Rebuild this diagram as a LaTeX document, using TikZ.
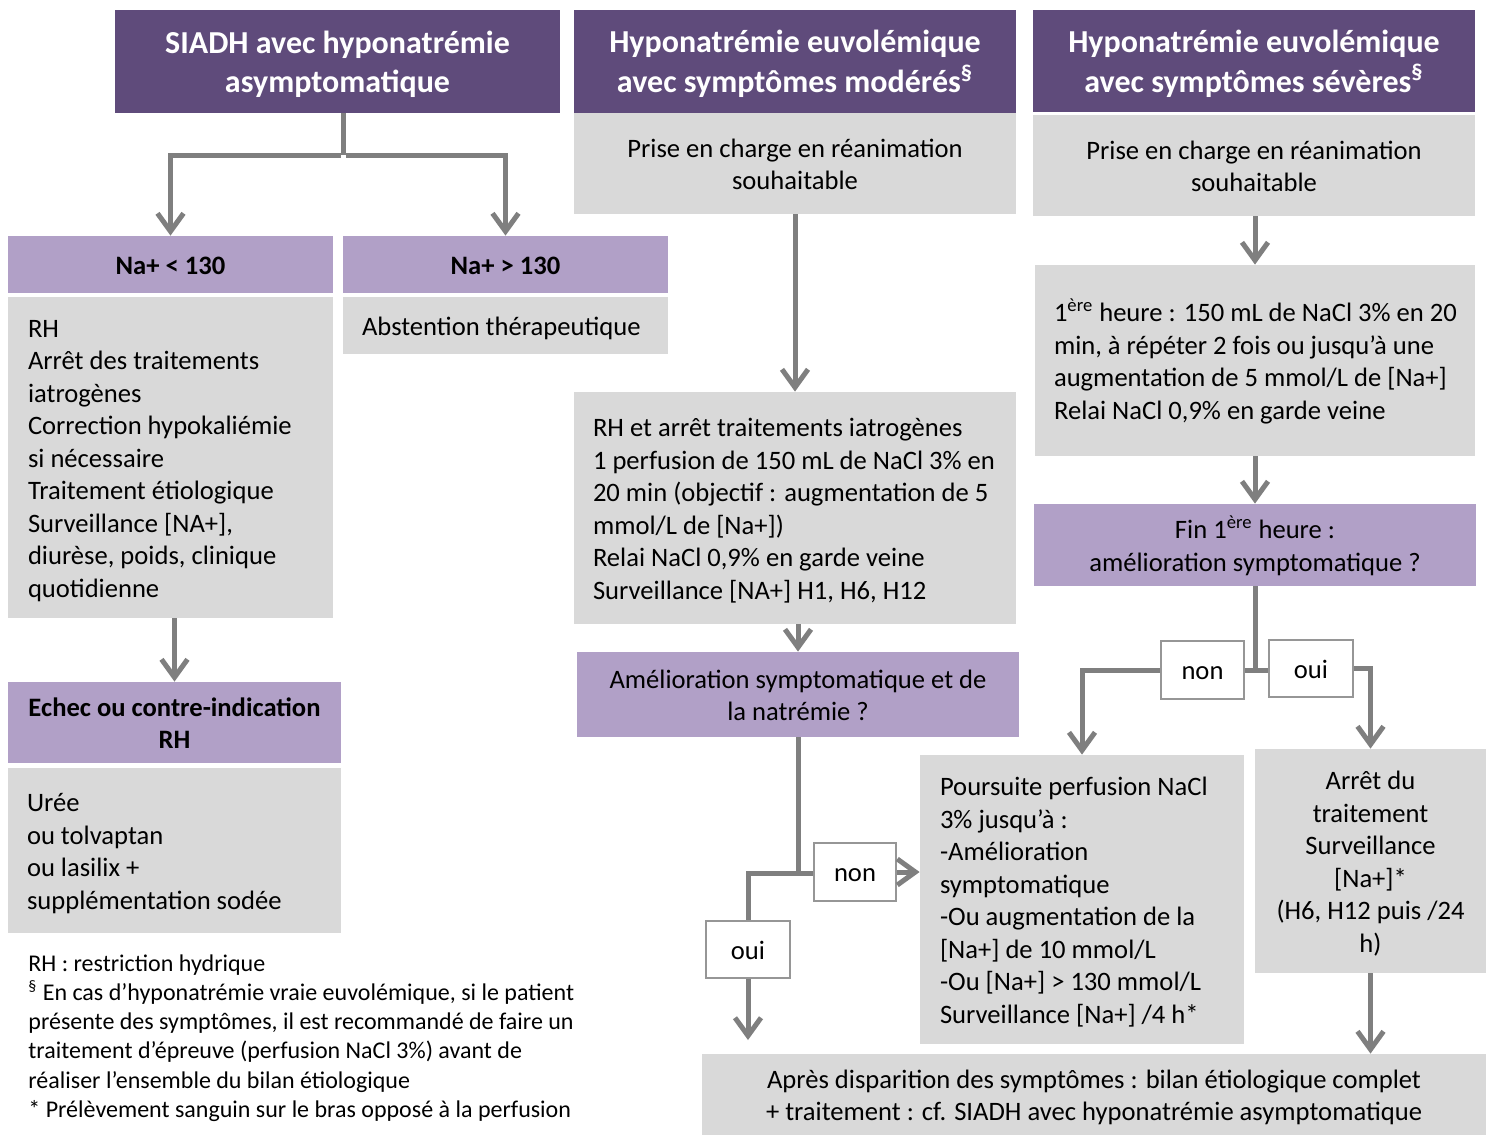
\documentclass[tikz,border=0pt]{standalone}
\usepackage{fontspec}
\setmainfont{Carlito}
\usetikzlibrary{arrows.meta}
\definecolor{hdrpurple}{RGB}{95,75,123}
\definecolor{lightpurple}{RGB}{177,160,199}
\definecolor{boxgray}{RGB}{217,217,217}
\definecolor{arrgray}{RGB}{127,127,127}
\definecolor{lblgray}{RGB}{150,150,150}
\newcommand{\bodyfont}{\fontsize{13.3pt}{16.25pt}\selectfont}
\newcommand{\hdrfont}{\fontsize{16pt}{19.5pt}\selectfont\bfseries}
\newcommand{\notefont}{\fontsize{12pt}{14.6pt}\selectfont}
\newcommand{\lowered}[1]{\raisebox{-1.7pt}[\height][\depth]{#1}}
\newcommand{\leftlines}[2]{\lowered{\makebox[#1][l]{\begin{tabular}{@{}l@{}}#2\end{tabular}}}}
\newcommand{\clines}[1]{\lowered{\begin{tabular}{@{}c@{}}#1\end{tabular}}}
\tikzset{
  hdr/.style={fill=hdrpurple, text=white, font=\hdrfont, inner sep=0pt},
  gbox/.style={fill=boxgray, font=\bodyfont, inner sep=0pt},
  pbox/.style={fill=lightpurple, font=\bodyfont, inner sep=0pt},
  lbl/.style={fill=white, draw=lblgray, line width=0.9pt, font=\bodyfont, inner sep=0pt},
  link/.style={draw=arrgray, line width=2.5pt},
  arr/.style={link, -{Straight Barb[length=9pt,width=13pt]}},
}
\begin{document}
\begin{tikzpicture}[x=0.5pt,y=-0.5pt]
\useasboundingbox[fill=white] (0,0) rectangle (1488,1135);

% headers
\node[hdr, minimum width=222.5pt, minimum height=51.5pt] (h1) at (337.5,61.5) {\clines{SIADH avec hyponatrémie\\asymptomatique}};
\node[hdr, minimum width=221pt, minimum height=51.5pt] (h2) at (795,61.5) {\clines{Hyponatrémie euvolémique\\avec symptômes modérés\textsuperscript{§}}};
\node[hdr, minimum width=221pt, minimum height=51pt] (h3) at (1254,61) {\clines{Hyponatrémie euvolémique\\avec symptômes sévères\textsuperscript{§}}};

% column 1
\node[pbox, font=\bodyfont\bfseries, minimum width=162.5pt, minimum height=28.5pt] (na1) at (170.5,264.5) {\clines{Na+ < 130}};
\node[pbox, font=\bodyfont\bfseries, minimum width=162.5pt, minimum height=28.5pt] (na2) at (505.5,264.5) {\clines{Na+ > 130}};
\node[gbox, minimum width=162.5pt, minimum height=160.5pt, inner xsep=10pt] (gl) at (170.5,457.5) {\leftlines{142.5pt}{RH\\Arrêt des traitements\\iatrogènes\\Correction hypokaliémie\\si nécessaire\\Traitement étiologique\\Surveillance [NA+],\\diurèse, poids, clinique\\quotidienne}};
\node[gbox, minimum width=162.5pt, minimum height=28.5pt, inner xsep=9.5pt] (abst) at (505.5,325.5) {\leftlines{143.5pt}{Abstention thérapeutique}};
\node[pbox, font=\bodyfont\bfseries, minimum width=166.5pt, minimum height=40.5pt] (echec) at (174.5,722.5) {\clines{Echec ou contre-indication\\RH}};
\node[gbox, minimum width=166.5pt, minimum height=82.5pt, inner xsep=9.5pt] (uree) at (174.5,850.5) {\leftlines{147.5pt}{Urée\\ou tolvaptan\\ou lasilix +\\supplémentation sodée}};

% column 2
\node[gbox, minimum width=221pt, minimum height=50.5pt] (g2) at (795,163.5) {\clines{Prise en charge en réanimation\\souhaitable}};
\node[gbox, minimum width=221pt, minimum height=116pt, inner xsep=9.5pt] (rh) at (795,508) {\leftlines{202pt}{RH et arrêt traitements iatrogènes\\1 perfusion de 150 mL de NaCl 3\% en\\20 min (objectif : augmentation de 5\\mmol/L de [Na+])\\Relai NaCl 0,9\% en garde veine\\Surveillance [NA+] H1, H6, H12}};
\node[pbox, minimum width=221pt, minimum height=42.5pt] (amel) at (798,694.5) {\clines{Amélioration symptomatique et de\\la natrémie ?}};
\node[lbl, minimum width=41pt, minimum height=29pt] (nonA) at (855,872) {\clines{non}};
\node[lbl, minimum width=42pt, minimum height=28.5pt] (ouiA) at (748,949.5) {\clines{oui}};

% column 3
\node[gbox, minimum width=221pt, minimum height=50.5pt] (g3) at (1254,165.5) {\clines{Prise en charge en réanimation\\souhaitable}};
\node[gbox, minimum width=220pt, minimum height=95.5pt, inner xsep=9.5pt] (hb) at (1255,360.5) {\leftlines{201pt}{1\textsuperscript{ère} heure : 150 mL de NaCl 3\% en 20\\min, à répéter 2 fois ou jusqu’à une\\augmentation de 5 mmol/L de [Na+]\\Relai NaCl 0,9\% en garde veine}};
\node[pbox, minimum width=221pt, minimum height=41pt] (fin) at (1255,545) {\clines{Fin 1\textsuperscript{ère} heure :\\amélioration symptomatique ?}};
\node[lbl, minimum width=41.5pt, minimum height=29pt] (nonB) at (1202.5,670) {\clines{non}};
\node[lbl, minimum width=42pt, minimum height=28.5pt] (ouiB) at (1311,668.5) {\clines{oui}};
\node[gbox, minimum width=162pt, minimum height=144.5pt, inner xsep=10pt] (pours) at (1082,899.5) {\leftlines{142pt}{Poursuite perfusion NaCl\\3\% jusqu’à :\\-Amélioration\\symptomatique\\-Ou augmentation de la\\{}[Na+] de 10 mmol/L\\-Ou [Na+] > 130 mmol/L\\Surveillance [Na+] /4 h*}};
\node[gbox, minimum width=115.5pt, minimum height=112pt] (arret) at (1370.5,861) {\clines{Arrêt du\\traitement\\Surveillance\\{}[Na+]*\\(H6, H12 puis /24\\h)}};
\node[gbox, minimum width=392pt, minimum height=40.5pt] (bottom) at (1094,1094.5) {\clines{Après disparition des symptômes : bilan étiologique complet\\+ traitement : cf. SIADH avec hyponatrémie asymptomatique}};

% footnotes
\node[font=\notefont, align=left, inner sep=0pt, anchor=west] (notes) at (28,1038) {RH : restriction hydrique\\\textsuperscript{§} En cas d’hyponatrémie vraie euvolémique, si le patient\\présente des symptômes, il est recommandé de faire un\\traitement d’épreuve (perfusion NaCl 3\%) avant de\\réaliser l’ensemble du bilan étiologique\\* Prélèvement sanguin sur le bras opposé à la perfusion};

% connectors column 1
\coordinate (j1) at (343,155);
\draw[link] (h1.south -| j1) -- (j1);
\draw[arr] ([xshift=-1.25pt]j1) -| (na1.north);
\draw[arr] ([xshift=1.25pt]j1) -| (na2.north);
\draw[arr] (gl.south -| echec.north) -- (echec.north);

% connectors column 2
\draw[arr] (g2.south) -- (rh.north);
\draw[arr] (rh.south -| amel.north) -- (amel.north);
\coordinate (j2) at (798,873);
\draw[link] (amel.south) -- ([yshift=-1.25pt]j2);
\draw[link] (j2) -- (nonA.west |- j2);
\draw[arr] (nonA.east) -- (pours.west |- nonA.east);
\draw[link] (j2) -| (ouiA.north);
\coordinate (e1) at (748,1040);
\draw[arr] (ouiA.south) -- (e1);

% connectors column 3
\draw[arr] (g3.south -| hb.north) -- (hb.north);
\draw[arr] (hb.south) -- (fin.north);
\coordinate (j3) at (1255,670);
\draw[link] (fin.south) -- (j3);
\draw[link] (nonB.east) -- (nonB.east -| ouiB.west);
\draw[arr] (nonB.west) -| (pours.north);
\draw[arr] (ouiB.east) -| (arret.north);
\draw[arr] (arret.south) -- (bottom.north -| arret.south);
\end{tikzpicture}
\end{document}
